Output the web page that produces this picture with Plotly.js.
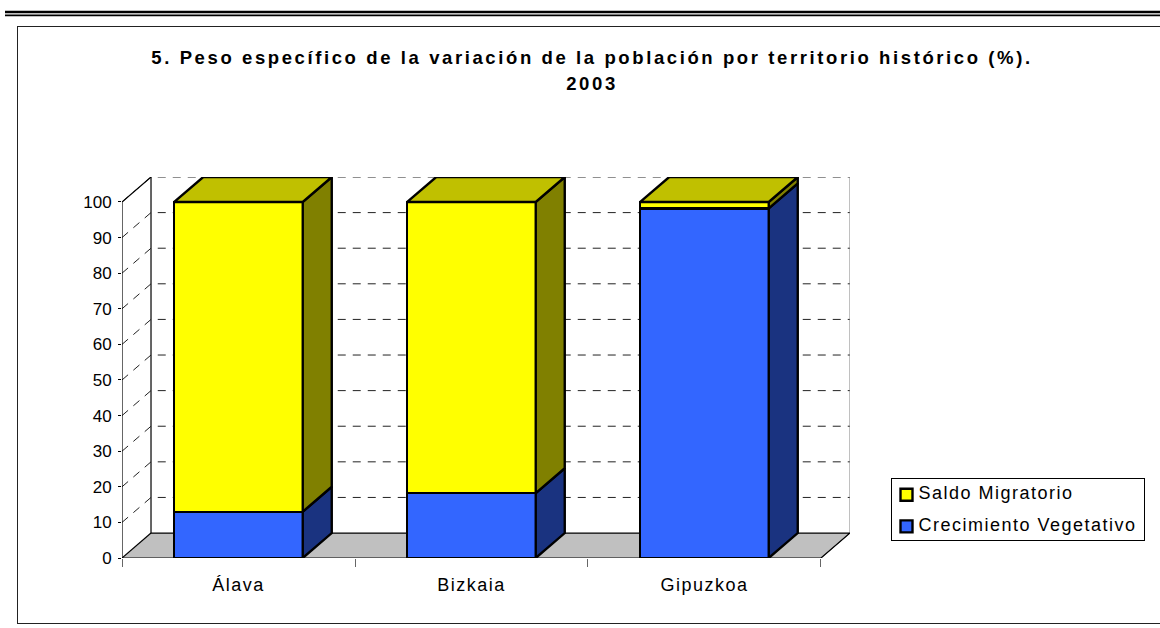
<!DOCTYPE html>
<html><head><meta charset="utf-8">
<script src="https://cdn.plot.ly/plotly-3.0.1.min.js"></script>
<style>
html,body{margin:0;padding:0;background:#fff}
#c{width:1160px;height:628px}
.gtitle{letter-spacing:2.6px}
.legendtext{letter-spacing:1.5px;font-size:18px !important;transform:translate(-13px,-8.5px)}
.legendsymbols{transform:translate(-5px,-4.5px)}
.legend .bg{height:62.5px;width:253px}
.xtick text{letter-spacing:1.5px}
</style></head><body><div id="c"></div>
<script>
const categories = ['Álava','Bizkaia','Gipuzkoa'];
const seriesNames = ['Crecimiento Vegetativo','Saldo Migratorio'];
const crecimiento = [13, 18.2, 98.2];
const saldo = [87, 81.8, 1.8];
const yTicks = [0,10,20,30,40,50,60,70,80,90,100];
const titleLines = ['5. Peso específico de la variación de la población por territorio histórico (%).','2003'];

// oblique projection of the 3D look, expressed in axis units
const depthX = 0.1245, depthY = 7.01, barW = 0.5515;
const x0 = -0.5, x1 = 2.5, yMax = 100;
const W = 1160, H = 628;
const m = {l:122, r:310, t:177, b:70, autoexpand:false};
const px = v => (v - m.l)/(W - m.l - m.r);
const py = v => 1 - (v - m.t)/(H - m.t - m.b);
const edge = 2.4;

const poly = (xs, ys, fill, lineColor, lw, axes) => ({
  type:'scatter', mode:'lines', x:xs, y:ys, fill:'toself', fillcolor:fill,
  line:{color:lineColor, width:lw}, showlegend:false, hoverinfo:'skip',
  xaxis:axes?'x2':'x', yaxis:axes?'y2':'y'
});
const line = (xs, ys, color, w, dash) => ({
  type:'scatter', mode:'lines', x:xs, y:ys, line:{color, width:w, dash:dash||'solid'},
  showlegend:false, hoverinfo:'skip', xaxis:'x', yaxis:'y', cliponaxis:false
});

const traces = [];
// floor
traces.push(poly([x0,x1,x1+depthX,x0+depthX,x0],[0,0,depthY,depthY,0],'#C0C0C0','rgba(0,0,0,0)',0));
// gridlines: side wall then back wall
const gx=[], gy=[];
yTicks.filter(t=>t>0).forEach(t=>{
  gx.push(x0,x0+depthX,x1+depthX,null);
  gy.push(t,t+depthY,t+depthY,null);
});
traces.push(line(gx,gy,'#222222',1,'8px,7px'));
// wall outlines
traces.push(line([x1+depthX,x1+depthX,x1],[yMax+depthY,depthY,0],'#808080',1));
traces.push(line([x1,x1+depthX,x0+depthX,x0+depthX],[0,depthY,depthY,yMax+depthY],'#000',1.2));
traces.push(line([x0+depthX,x0,x0,x1],[yMax+depthY,yMax,0,0],'#000',1.2));
traces.push(line([x0,x0+depthX],[0,depthY],'#000',1.2));
// the zero tick runs out further than the others
traces.push(line([x0-0.04,x0],[0,0],'#000',1.2));

// front faces, real stacked bars
traces.push({type:'bar', name:seriesNames[0], x:[0,1,2], y:crecimiento, width:barW,
  marker:{color:'#3366FF', line:{color:'#000',width:edge}}, xaxis:'x2', yaxis:'y2', hoverinfo:'skip'});
traces.push({type:'bar', name:seriesNames[1], x:[0,1,2], y:saldo, width:barW,
  marker:{color:'#FFFF00', line:{color:'#000',width:edge}}, xaxis:'x2', yaxis:'y2', hoverinfo:'skip'});

// side and top faces, from the same values
categories.forEach((c,i)=>{
  const r = i + barW/2, l = i - barW/2;
  const a = crecimiento[i], b = a + saldo[i];
  traces.push(poly([r,r+depthX,r+depthX,r,r],[0,depthY,a+depthY,a,0],'#1A3380','#000',edge,true));
  traces.push(poly([r,r+depthX,r+depthX,r,r],[a,a+depthY,b+depthY,b,a],'#808000','#000',edge,true));
  traces.push(poly([l,r,r+depthX,l+depthX,l],[b,b,b+depthY,b+depthY,b],'#C0C000','#000',edge,true));
});

const range = [x0, x1+depthX], yrange = [0, yMax+depthY];
const hline = (y, x0p, x1p, color, w) => ({type:'line', xref:'paper', yref:'paper', x0:px(x0p), x1:px(x1p), y0:py(y), y1:py(y), line:{color, width:w}});
const layout = {
  width:W, height:H, margin:m, paper_bgcolor:'#fff', plot_bgcolor:'#fff',
  font:{family:'"Liberation Sans", Arial, sans-serif', color:'#000', size:16},
  barmode:'stack', showlegend:true,
  title:{text:titleLines.map(t=>'<span style="font-size:18.5px">'+t+'</span>').join('<br>'),
    font:{size:20, color:'#000', family:'"Liberation Sans", Arial, sans-serif', weight:'bold'},
    x:px(592), xanchor:'center', xref:'paper', y:1-64/H, yanchor:'middle', yref:'container'},
  xaxis:{range, tickmode:'array', tickvals:[0,1,2], ticktext:categories, ticks:'', showgrid:false, zeroline:false,
    showline:false, tickfont:{size:18}, ticklabelstandoff:14,
    minor:{tickmode:'array', tickvals:[x0,0.5,1.5,x1], ticks:'outside', ticklen:8, tickcolor:'#666', tickwidth:1, showgrid:false}},
  yaxis:{range:yrange, tickmode:'array', tickvals:yTicks, ticks:'outside', ticklen:3, tickcolor:'#000', tickwidth:1,
    showgrid:false, zeroline:false, showline:false, tickfont:{size:17}, ticklabelstandoff:3},
  xaxis2:{range, overlaying:'x', visible:false, fixedrange:true, anchor:'y2'},
  yaxis2:{range:yrange, overlaying:'y', visible:false, fixedrange:true, anchor:'x2'},
  legend:{x:px(890.5), y:py(477.5), xanchor:'left', yanchor:'top', bgcolor:'#fff', bordercolor:'#000', borderwidth:1,
    font:{size:22,color:'#000'}, traceorder:'reversed', itemclick:false, itemdoubleclick:false, tracegroupgap:0,
    entrywidth:199, entrywidthmode:'pixels'},
  shapes:[
    {type:'line', xref:'paper', yref:'paper', x0:px(17.5), x1:px(17.5), y0:py(26.5), y1:py(623.5), line:{color:'#222',width:1}},
    hline(26.5,17,1160,'#222',1.2),
    hline(623.5,17,1160,'#222',1.2),
    hline(12,5,1160,'#000',2.5),
    hline(15.3,5,1160,'#000',1.8)
  ]
};
Plotly.newPlot('c', traces, layout, {displayModeBar:false, staticPlot:true});
</script></body></html>
